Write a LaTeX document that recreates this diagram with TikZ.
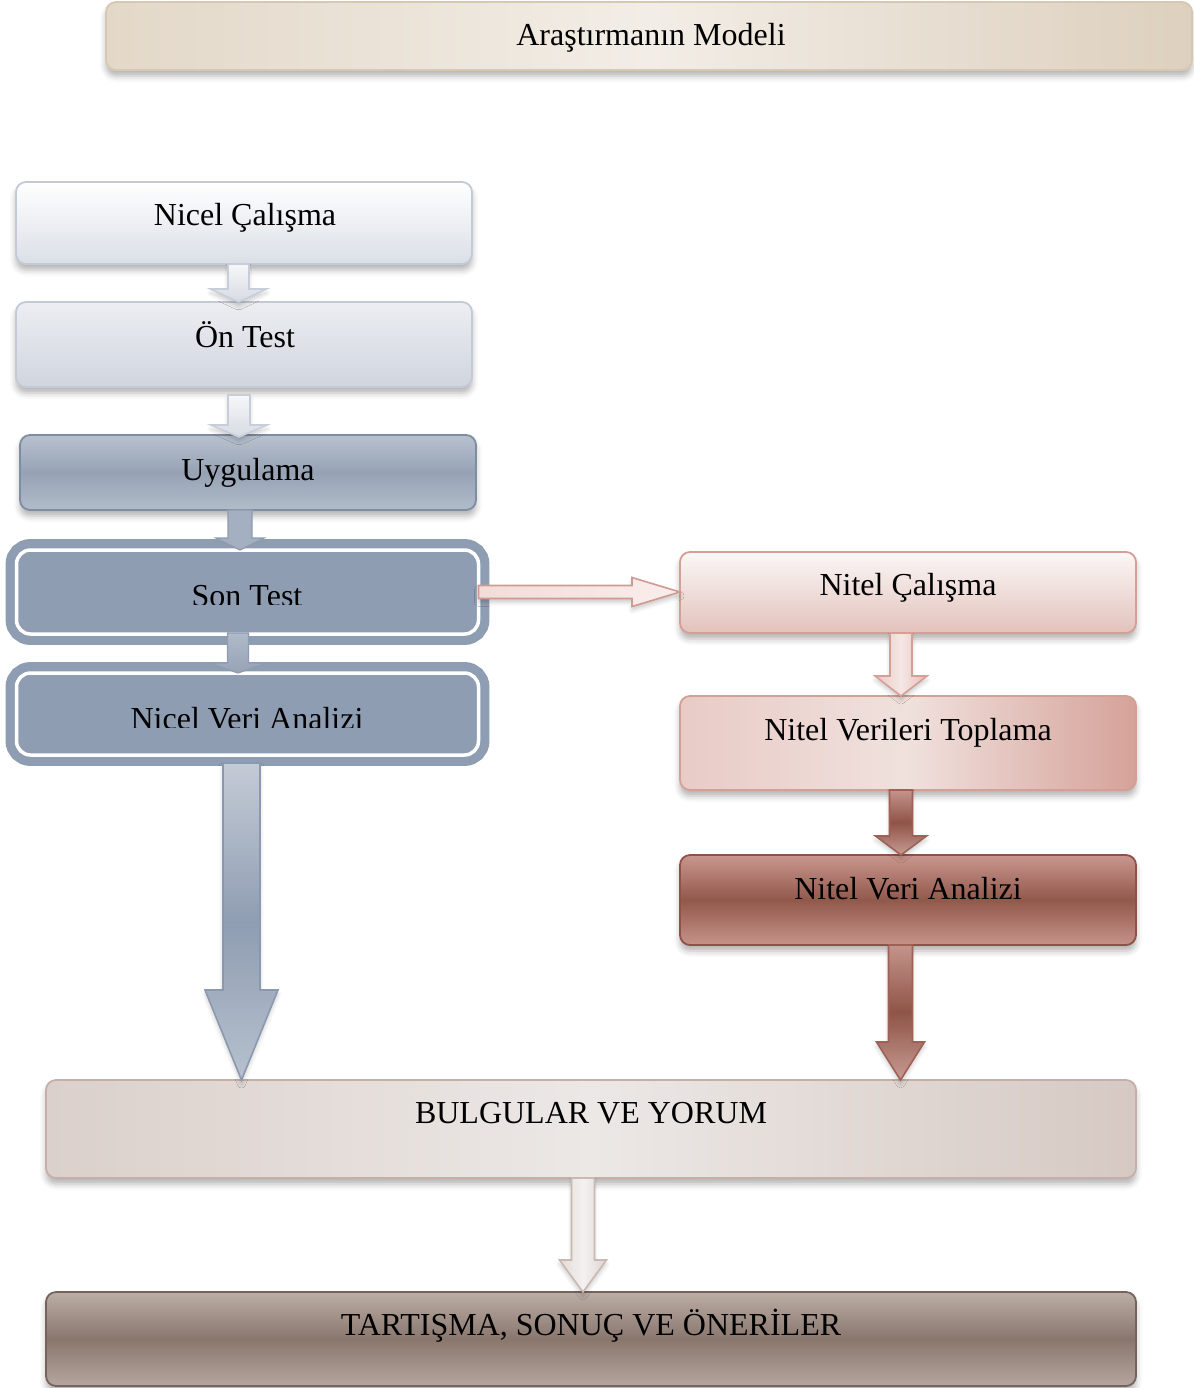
\documentclass[tikz,border=0pt]{standalone}
\usepackage{fontspec}
\setmainfont{Liberation Serif}
\usetikzlibrary{calc,shadows,shadows.blur}

% palette
\definecolor{ttlA}{HTML}{E3D8C8}
\definecolor{ttlB}{HTML}{F2EDE6}
\definecolor{ttlC}{HTML}{DDD0BE}
\definecolor{ttlL}{HTML}{D6C8B2}
\definecolor{gLine}{HTML}{C3CAD6}
\definecolor{slate}{HTML}{8F9DB2}
\definecolor{slateL}{HTML}{7F8DA3}
\definecolor{rose}{HTML}{D49F95}
\definecolor{maroon}{HTML}{8E5348}
\definecolor{sand}{HTML}{C4B0A8}
\definecolor{umber}{HTML}{75645C}

\tikzset{
  box/.style={rounded corners=5pt, inner sep=0pt, outer sep=0pt, line width=0.9pt,
    blur shadow={shadow xshift=0pt, shadow yshift=-3pt, shadow blur radius=3pt, shadow opacity=30}},
  ringbox/.style={rounded corners=7pt, inner sep=0pt, outer sep=0pt, fill=slate, draw=slate,
    line width=4.6pt, double=white, double distance=1.75pt},
  txt/.style={font=\fontsize{16}{19}\selectfont, anchor=base, inner sep=0pt, outer sep=0pt},
  arr/.style={line width=0.8pt, line join=miter,
    blur shadow={shadow xshift=0pt, shadow yshift=-2pt, shadow blur radius=2pt, shadow opacity=20}},
}

% downward block arrow: from, to, half shaft, half head, head length, style
\newcommand{\dnarrow}[6]{%
  \path[#6] let \p1=(#1), \p2=(#2) in
    (\x1-#3,\y1) -- (\x1-#3,\y2+#5) -- (\x1-#4,\y2+#5) -- (\x1,\y2)
    -- (\x1+#4,\y2+#5) -- (\x1+#3,\y2+#5) -- (\x1+#3,\y1) -- cycle;}
% rightward block arrow: from, to, half shaft, half head, head length, style
\newcommand{\rtarrow}[6]{%
  \path[#6] let \p1=(#1), \p2=(#2) in
    (\x1,\y1+#3) -- (\x2-#5,\y1+#3) -- (\x2-#5,\y1+#4) -- (\x2,\y1)
    -- (\x2-#5,\y1-#4) -- (\x2-#5,\y1-#3) -- (\x1,\y1-#3) -- cycle;}

\begin{document}
\begin{tikzpicture}[x=0.5pt,y=-0.5pt]
\useasboundingbox (0,0) rectangle (1194,1388);

% heading bar
\node[box, draw=ttlL, left color=ttlA, right color=ttlC, middle color=ttlB,
  minimum width=543pt, minimum height=34pt] (title) at (649,36) {};
\node[txt] (titlet) at (651,45) {Araştırmanın Modeli};

% quantitative column
\node[box, draw=gLine, top color=white, bottom color={rgb,255:red,218;green,223;blue,231},
  minimum width=228pt, minimum height=41pt] (n1) at (244,223) {};
\node[txt] (n1t) at (245,225) {Nicel Çalışma};

\node[box, draw=gLine, top color={rgb,255:red,236;green,238;blue,242}, bottom color={rgb,255:red,208;green,213;blue,222},
  minimum width=228pt, minimum height=42.5pt] (n2) at (244,344.5) {};
\node[txt] (n2t) at (245,347) {Ön Test};

\node[box, draw=slateL, top color={rgb,255:red,184;green,193;blue,206}, bottom color={rgb,255:red,178;green,188;blue,201},
  middle color={rgb,255:red,150;green,162;blue,180},
  minimum width=228pt, minimum height=37.5pt] (n3) at (248,472.5) {};
\node[txt] (n3t) at (248,480) {Uygulama};

\node[ringbox, minimum width=231pt, minimum height=42pt] (n4) at (247.5,592) {};
\begin{scope}
  \clip (30,560) rectangle (470,604);
  \node[txt] (n4t) at (247,606) {Son Test};
\end{scope}

\node[ringbox, minimum width=231pt, minimum height=41pt] (n5) at (247.5,714) {};
\begin{scope}
  \clip (30,690) rectangle (470,727);
  \node[txt] (n5t) at (247,729) {Nicel Veri Analizi};
\end{scope}

% qualitative column
\node[box, draw=rose, top color={rgb,255:red,251;green,247;blue,246}, bottom color={rgb,255:red,226;green,194;blue,188},
  minimum width=228pt, minimum height=40.5pt] (r1) at (908,592.5) {};
\node[txt] (r1t) at (908,595) {Nitel Çalışma};

\node[box, draw=rose, left color={rgb,255:red,232;green,203;blue,198}, right color={rgb,255:red,213;green,162;blue,153},
  middle color={rgb,255:red,240;green,225;blue,221},
  minimum width=228pt, minimum height=47pt] (r2) at (908,743) {};
\node[txt] (r2t) at (908,740) {Nitel Verileri Toplama};

\node[box, draw=maroon, top color={rgb,255:red,201;green,151;blue,142}, bottom color={rgb,255:red,198;green,147;blue,137},
  middle color={rgb,255:red,146;green,88;blue,76},
  minimum width=228pt, minimum height=45pt] (r3) at (908,900) {};
\node[txt] (r3t) at (908,899) {Nitel Veri Analizi};

% results and discussion
\node[box, draw=sand, left color={rgb,255:red,219;green,208;blue,203}, right color={rgb,255:red,214;green,201;blue,195},
  middle color={rgb,255:red,236;green,232;blue,230},
  minimum width=545pt, minimum height=49pt] (b1) at (591,1129) {};
\node[txt] (b1t) at (591,1123) {BULGULAR VE YORUM};

\node[box, draw=umber, top color={rgb,255:red,188;green,173;blue,166}, bottom color={rgb,255:red,182;green,166;blue,159},
  middle color={rgb,255:red,137;green,119;blue,110},
  minimum width=545pt, minimum height=47pt] (b2) at (591,1339) {};
\node[txt] (b2t) at (591,1335) {TARTIŞMA, SONUÇ VE ÖNERİLER};

% connectors, left column
\dnarrow{[xshift=-2.75pt]n1.south}{n2.north}{5.25pt}{14pt}{6.5pt}
  {arr, draw={rgb,255:red,200;green,206;blue,217}, top color={rgb,255:red,246;green,247;blue,249}, bottom color={rgb,255:red,214;green,219;blue,227}}
\dnarrow{[xshift=-2.5pt,yshift=-4pt]n2.south}{[yshift=-1pt]n3.north}{5.5pt}{14pt}{6pt}
  {arr, draw={rgb,255:red,200;green,206;blue,217}, top color={rgb,255:red,246;green,247;blue,249}, bottom color={rgb,255:red,214;green,219;blue,227}}
\dnarrow{[xshift=-4pt]n3.south}{n4.north}{6pt}{12pt}{6pt}
  {line width=0.6pt, draw={rgb,255:red,142;green,155;blue,176}, fill={rgb,255:red,164;green,176;blue,194}}
\dnarrow{[xshift=-4.75pt,yshift=0.5pt]n4.south}{n5.north}{5.25pt}{14.25pt}{5pt}
  {line width=0.6pt, draw={rgb,255:red,142;green,155;blue,176}, top color={rgb,255:red,176;green,186;blue,201}, bottom color={rgb,255:red,150;green,163;blue,182}}
\dnarrow{[xshift=-3pt,yshift=-4pt]n5.south}{b1.north}{9.25pt}{18.25pt}{45pt}
  {arr, draw={rgb,255:red,138;green,153;blue,175}, top color={rgb,255:red,196;green,203;blue,214}, bottom color={rgb,255:red,183;green,193;blue,206}, middle color=slate}

% connector to the qualitative column
\rtarrow{n4.east}{r1.west}{3.25pt}{7.25pt}{24pt}
  {arr, draw={rgb,255:red,209;green,154;blue,144}, left color={rgb,255:red,242;green,220;blue,216}, right color={rgb,255:red,249;green,238;blue,236}}

% connectors, right column
\dnarrow{[xshift=-3.5pt]r1.south}{r2.north}{5.5pt}{13pt}{10pt}
  {arr, draw=rose, left color={rgb,255:red,232;green,200;blue,194}, right color={rgb,255:red,226;green,190;blue,183}, middle color={rgb,255:red,245;green,231;blue,228}}
\dnarrow{[xshift=-3.5pt]r2.south}{r3.north}{5.75pt}{12.75pt}{9.5pt}
  {arr, draw={rgb,255:red,158;green,97;blue,87}, top color={rgb,255:red,196;green,148;blue,138}, bottom color={rgb,255:red,200;green,155;blue,146}, middle color={rgb,255:red,143;green,84;blue,72}}
\dnarrow{[xshift=-3.75pt]r3.south}{b1.north}{6pt}{12pt}{19pt}
  {arr, draw={rgb,255:red,158;green,97;blue,87}, top color={rgb,255:red,196;green,148;blue,138}, bottom color={rgb,255:red,200;green,155;blue,146}, middle color={rgb,255:red,143;green,84;blue,72}}

% connector to the discussion
\dnarrow{[xshift=-4pt]b1.south}{b2.north}{5.75pt}{11.75pt}{16pt}
  {arr, draw={rgb,255:red,201;green,185;blue,178}, left color={rgb,255:red,227;green,219;blue,215}, right color={rgb,255:red,222;green,213;blue,209}, middle color={rgb,255:red,244;green,241;blue,240}}

\end{tikzpicture}
\end{document}
